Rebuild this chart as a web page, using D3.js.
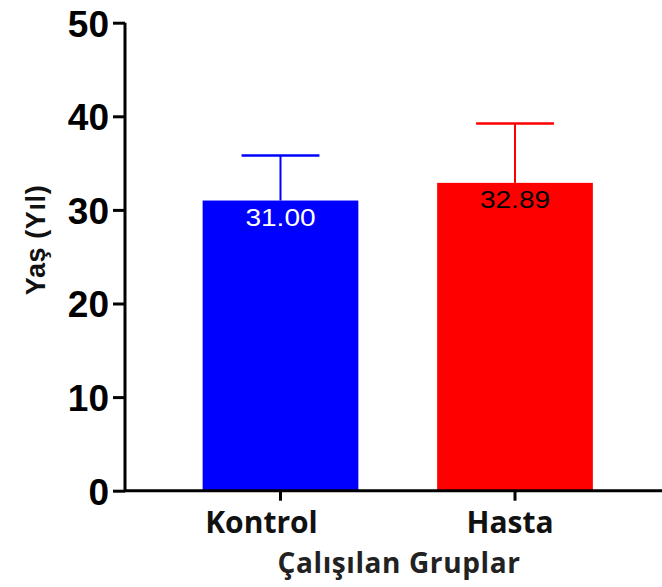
<!DOCTYPE html>
<html>
<head>
<meta charset="utf-8">
<script src="https://cdn.jsdelivr.net/npm/d3@7"></script>
<style>
  body { margin: 0; background: #fff; }
  svg { display: block; }
</style>
</head>
<body>
<div id="chart"></div>
<script>
// data -------------------------------------------------------------------
const groups = ['Kontrol', 'Hasta'];
const means = [31.00, 32.89];
const sds = [4.8, 6.35];
const barColors = ['#0000ff', '#ff0000'];
const labelColors = ['#ffffff', '#000000'];
const yTicks = [0, 10, 20, 30, 40, 50];

// svg --------------------------------------------------------------------
const width = 662, height = 587;
const svg = d3.select('#chart').append('svg')
  .attr('width', width)
  .attr('height', height);

// scales -----------------------------------------------------------------
const yScale = d3.scaleLinear().domain([0, 50]).range([490.7, 22.7]);
const xScale = d3.scaleBand()
  .domain(groups)
  .range([125, 670.5])
  .paddingInner(0.336)
  .paddingOuter(0.331);
const bw = xScale.bandwidth();
const cx = d => xScale(d) + bw / 2;
const labelShift = [-19, -5];

// bars -------------------------------------------------------------------
const bar = svg.selectAll('.bar')
  .data(groups)
  .enter()
  .append('g')
  .attr('class', 'bar');

bar.append('rect')
  .attr('x', d => xScale(d))
  .attr('width', bw)
  .attr('y', (d, i) => yScale(means[i]))
  .attr('height', (d, i) => yScale(0) - yScale(means[i]))
  .attr('fill', (d, i) => barColors[i]);

// error bars (upper only) ------------------------------------------------
bar.append('line')
  .attr('x1', d => cx(d)).attr('x2', d => cx(d))
  .attr('y1', (d, i) => yScale(means[i]))
  .attr('y2', (d, i) => yScale(means[i] + sds[i]))
  .attr('stroke', (d, i) => barColors[i])
  .attr('stroke-width', 2);
bar.append('line')
  .attr('x1', d => cx(d) - bw / 4).attr('x2', d => cx(d) + bw / 4)
  .attr('y1', (d, i) => yScale(means[i] + sds[i]))
  .attr('y2', (d, i) => yScale(means[i] + sds[i]))
  .attr('stroke', (d, i) => barColors[i])
  .attr('stroke-width', 2.5);

// value labels -----------------------------------------------------------
bar.append('text')
  .attr('transform', (d, i) => 'translate(' + cx(d) + ',' + (yScale(means[i]) + 25) + ') scale(1.22,1)')
  .attr('text-anchor', 'middle')
  .attr('font-family', 'Liberation Sans, Arial, sans-serif')
  .attr('font-size', '23px')
  .attr('fill', (d, i) => labelColors[i])
  .text((d, i) => means[i].toFixed(2));

// y axis -----------------------------------------------------------------
const yAxis = d3.axisLeft(yScale).tickValues(yTicks).tickSize(12).tickPadding(4);
const gy = svg.append('g')
  .attr('transform', 'translate(125,0)')
  .call(yAxis);
gy.select('.domain').attr('stroke-width', 3).attr('d', 'M0,' + yScale(0) + 'V' + yScale(50) + 'H-0');
gy.selectAll('.tick line').attr('stroke-width', 3);
gy.selectAll('.tick text')
  .attr('font-family', 'Liberation Sans, Arial, sans-serif')
  .attr('font-weight', 'bold')
  .attr('font-size', '37px')
  .attr('dy', '0.36em')
  .attr('fill', '#000');

// x axis -----------------------------------------------------------------
svg.append('line')
  .attr('x1', 124).attr('x2', width)
  .attr('y1', yScale(0)).attr('y2', yScale(0))
  .attr('stroke', '#000').attr('stroke-width', 3);
svg.selectAll('.xtick')
  .data(groups)
  .enter()
  .append('line')
  .attr('class', 'xtick')
  .attr('x1', d => cx(d)).attr('x2', d => cx(d))
  .attr('y1', yScale(0)).attr('y2', yScale(0) + 10)
  .attr('stroke', '#000').attr('stroke-width', 3);
svg.selectAll('.xlabel')
  .data(groups)
  .enter()
  .append('text')
  .attr('class', 'xlabel')
  .attr('x', (d, i) => cx(d) + labelShift[i])
  .attr('y', 532.5)
  .attr('text-anchor', 'middle')
  .attr('font-family', 'Open Sans, sans-serif')
  .attr('font-weight', 'bold')
  .attr('font-size', '30px')
  .attr('fill', '#111')
  .text(d => d);

// axis titles ------------------------------------------------------------
svg.append('text')
  .attr('x', 399)
  .attr('y', 573)
  .attr('text-anchor', 'middle')
  .attr('font-family', 'Open Sans, sans-serif')
  .attr('font-weight', 'bold')
  .attr('font-size', '28px')
  .attr('letter-spacing', '0.6px')
  .attr('fill', '#222')
  .text('Çalışılan Gruplar');

svg.append('text')
  .attr('transform', 'translate(45,240) rotate(-90)')
  .attr('text-anchor', 'middle')
  .attr('font-family', 'Liberation Sans, Arial, sans-serif')
  .attr('font-weight', 'bold')
  .attr('font-size', '27px')
  .attr('letter-spacing', '0.6px')
  .attr('fill', '#111')
  .text('Yaş (Yıl)');
</script>
</body>
</html>
